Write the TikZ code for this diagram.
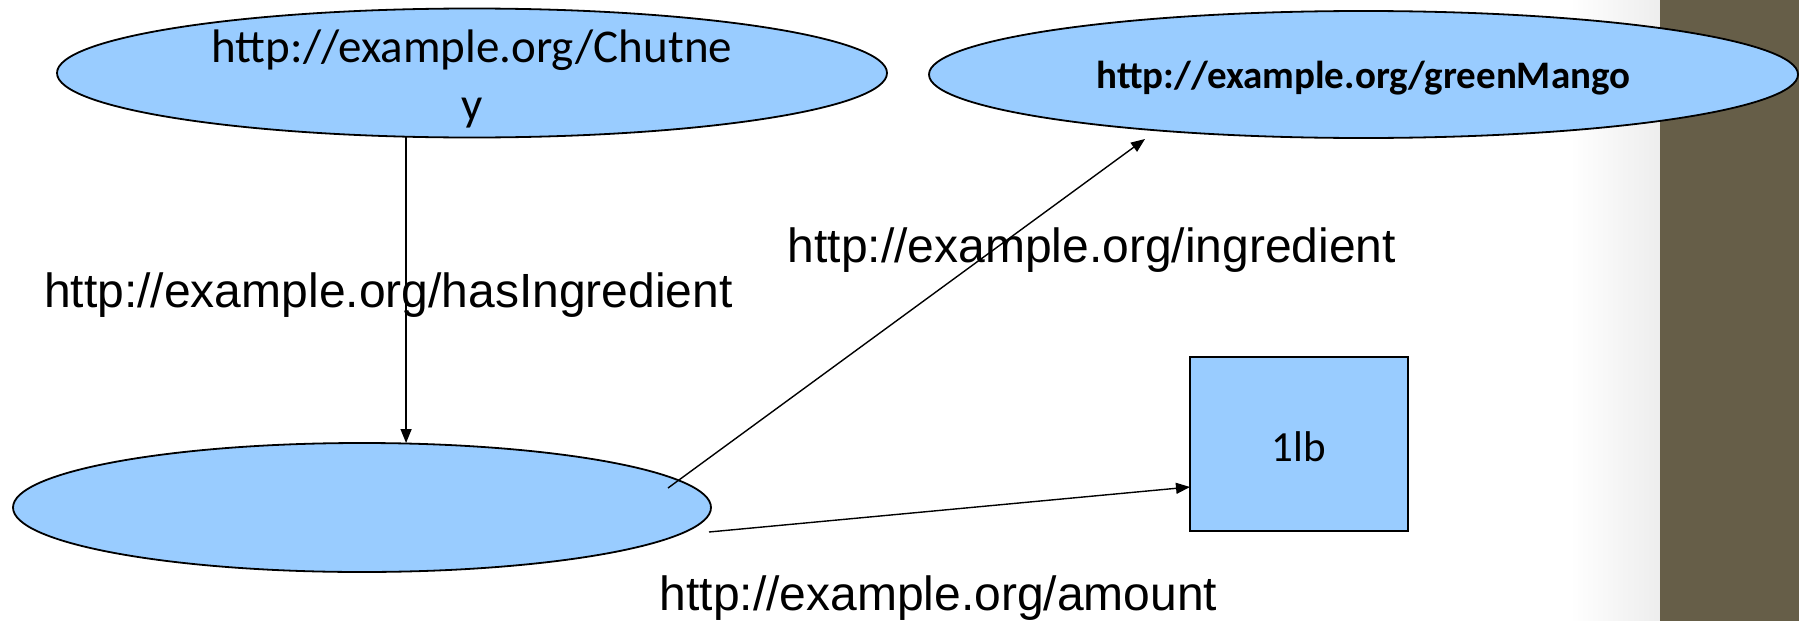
\documentclass[tikz,border=0pt]{standalone}
\usepackage{fontspec}
\setmainfont{Liberation Sans}
\newfontfamily\calibri{Carlito}
\usetikzlibrary{shapes.geometric,arrows.meta,calc}
\definecolor{nodeblue}{RGB}{153,204,255}
\definecolor{sidebar}{RGB}{102,94,72}

\begin{document}
\begin{tikzpicture}[x=1pt,y=-1pt,
  resource/.style={ellipse, draw=black, line width=1.8pt, fill=nodeblue, inner sep=0pt, outer sep=0pt},
  literal/.style={rectangle, draw=black, line width=1.8pt, fill=nodeblue, inner sep=0pt, outer sep=0pt},
  link/.style={draw=black, line width=1.4pt, -{Triangle[length=14pt,width=11pt]}},
  edgelabel/.style={anchor=base west, inner sep=0pt, font=\fontsize{48}{58}\selectfont}]

\useasboundingbox (0,0) rectangle (1799,621);

% side band on the right
\shade[left color=white, right color=black!7] (1570,0) rectangle (1660,621);
\fill[sidebar] (1660,0) rectangle (1799,621);

% resources and literal
\node[resource, minimum width=830pt, minimum height=129pt,
      font=\calibri\fontsize{47}{58}\selectfont] (chutney) at (472,73)
  {\raisebox{-47pt}[0pt][0pt]{\begin{tabular}[b]{@{}c@{}}http://example.org/Chutne\\y\end{tabular}}};
\node[resource, minimum width=869pt, minimum height=127pt,
      font=\calibri\bfseries\fontsize{39}{47}\selectfont] (mango) at (1363.5,74.5)
  {\raisebox{-13.5pt}[0pt][0pt]{http://example.org/greenMango}};
\node[resource, minimum width=698pt, minimum height=129pt] (blank) at (362,507.5) {};
\node[literal, minimum width=218pt, minimum height=174pt,
      font=\calibri\fontsize{43}{52}\selectfont] (amountval) at (1299,444)
  {\raisebox{-17pt}[0pt][0pt]{1lb}};

% property labels
\node[edgelabel] (lblHas) at (44,307) {http://example.org/hasIngredient};
\node[edgelabel] (lblIng) at (787.5,262) {http://example.org/ingredient};
\node[edgelabel] (lblAmt) at (659.5,610) {http://example.org/amount};

% connectors
\coordinate (ingFrom) at ($(blank.center)+(306,-19.5)$);
\coordinate (ingTo) at ($(mango.center)+(-218.5,64.5)$);
\coordinate (amtFrom) at ($(blank.east)+(-2,24.5)$);
\coordinate (amtTo) at ($(amountval.west)+(0,43)$);
\draw[link] (chutney.224) -- (chutney.224 |- blank.north);
\draw[link] (ingFrom) -- (ingTo);
\draw[link] (amtFrom) -- (amtTo);
\end{tikzpicture}
\end{document}
